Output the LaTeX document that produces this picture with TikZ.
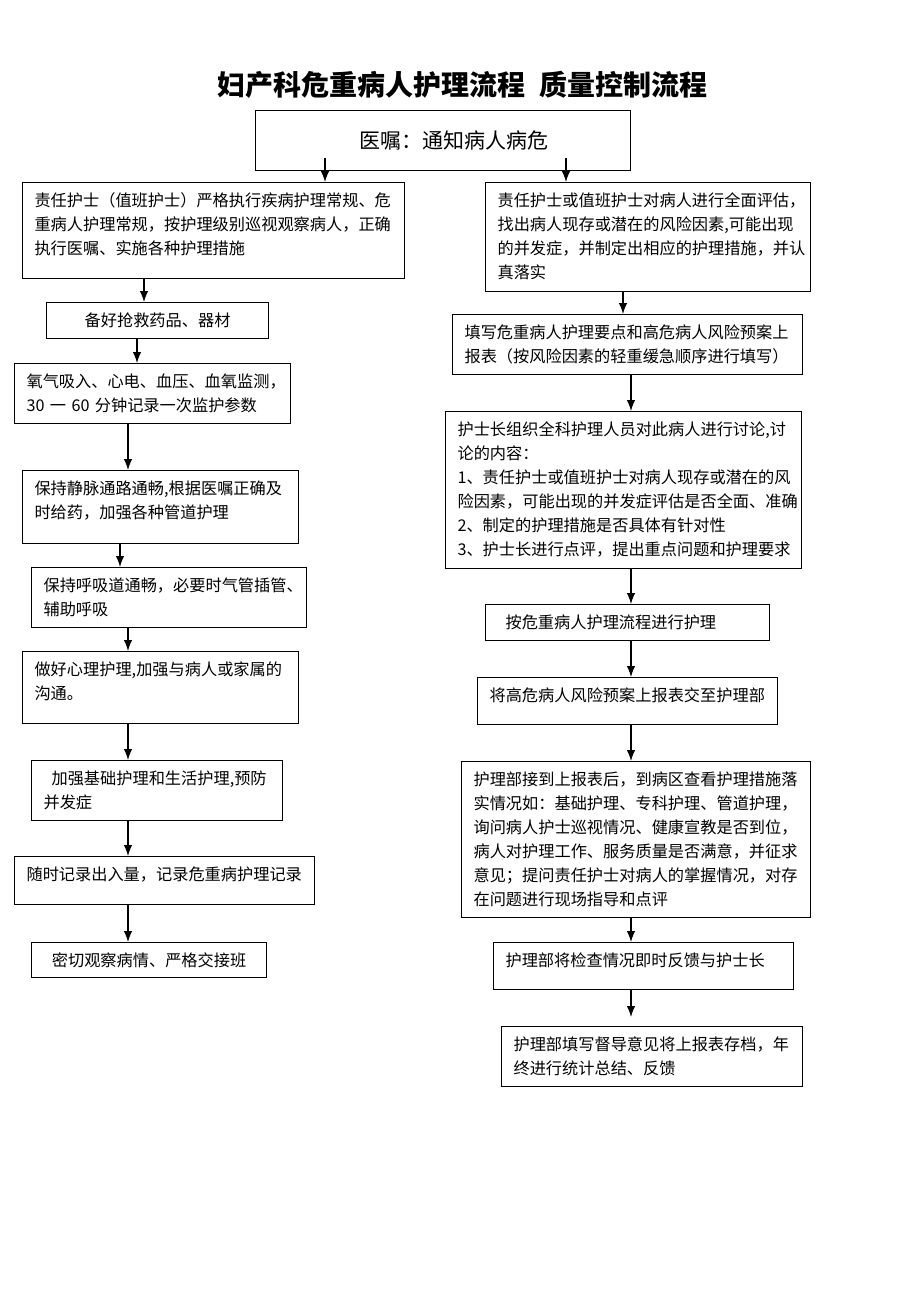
\documentclass[tikz,border=0pt]{standalone}
\usepackage{fontspec}
\setmainfont{Noto Sans CJK SC}
\usetikzlibrary{arrows.meta}
\hfuzz=20pt

\begin{document}
\begin{tikzpicture}[x=1pt,y=-1pt,>={Latex[length=11pt,width=8.5pt]},line width=1.2pt,
    every node/.style={font=\fontsize{16.2pt}{24pt}\selectfont},
    box/.style={draw,line width=1.1pt,anchor=north west,align=left,
      inner xsep=12pt,inner ysep=0pt,text height=24pt,text width=#1-24pt}]
  \useasboundingbox (0,0) rectangle (920,1302);
  \node[font=\fontsize{28pt}{28pt}\selectfont\bfseries] (title) at (462,85)
    {妇产科危重病人护理流程\hspace{0.5em}质量控制流程};
  \node[box=375pt,align=center,font=\fontsize{21pt}{24pt}\selectfont,
    text height=38pt,text depth=22pt] (top) at (255,110) {\hspace*{21pt}医嘱：通知病人病危};

  % left column
  \node[box=382pt,text depth=72pt] (l1) at (22,182)
    {责任护士（值班护士）严格执行疾病护理常规、危\\重病人护理常规，按护理级别巡视观察病人，正确\\执行医嘱、实施各种护理措施};
  \node[box=222pt,align=center,text depth=12pt] (l2) at (46,302) {备好抢救药品、器材};
  \node[box=276pt,text depth=36pt] (l3) at (14,363)
    {氧气吸入、心电、血压、血氧监测，\\30 一 60 分钟记录一次监护参数};
  \node[box=276pt,text depth=49pt] (l4) at (22,470)
    {保持静脉通路通畅,根据医嘱正确及\\时给药，加强各种管道护理};
  \node[box=275pt,text depth=36pt] (l5) at (31,567)
    {保持呼吸道通畅，必要时气管插管、\\辅助呼吸};
  \node[box=276pt,text depth=48pt] (l6) at (22,651)
    {做好心理护理,加强与病人或家属的\\沟通。};
  \node[box=251pt,text depth=36pt] (l7) at (31,760)
    {\hspace*{8pt}加强基础护理和生活护理,预防\\并发症};
  \node[box=300pt,text depth=24pt] (l8) at (14,856) {随时记录出入量，记录危重病护理记录};
  \node[box=235pt,align=center,text depth=11pt] (l9) at (31,942) {密切观察病情、严格交接班};

  % right column
  \node[box=325pt,text depth=85pt] (r1) at (485,182)
    {责任护士或值班护士对病人进行全面评估，\\找出病人现存或潜在的风险因素,可能出现\\的并发症，并制定出相应的护理措施，并认\\真落实};
  \node[box=350pt,text depth=36pt] (r2) at (452,314)
    {填写危重病人护理要点和高危病人风险预案上\\报表（按风险因素的轻重缓急顺序进行填写）};
  \node[box=356pt,text depth=133pt] (r3) at (445,411)
    {护士长组织全科护理人员对此病人进行讨论,讨\\论的内容：\\1、责任护士或值班护士对病人现存或潜在的风\\险因素，可能出现的并发症评估是否全面、准确\\2、制定的护理措施是否具体有针对性\\3、护士长进行点评，提出重点问题和护理要求};
  \node[box=284pt,text depth=12pt] (r4) at (485,604) {\hspace*{8pt}按危重病人护理流程进行护理};
  \node[box=300pt,text depth=23pt] (r5) at (477,677) {将高危病人风险预案上报表交至护理部};
  \node[box=349pt,text depth=132pt] (r6) at (461,761)
    {护理部接到上报表后，到病区查看护理措施落\\实情况如：基础护理、专科护理、管道护理，\\询问病人护士巡视情况、健康宣教是否到位，\\病人对护理工作、服务质量是否满意，并征求\\意见；提问责任护士对病人的掌握情况，对存\\在问题进行现场指导和点评};
  \node[box=300pt,text depth=23pt] (r7) at (493,942) {护理部将检查情况即时反馈与护士长};
  \node[box=301pt,text depth=36pt] (r8) at (501,1026)
    {护理部填写督导意见将上报表存档，年\\终进行统计总结、反馈};

  \draw[->,shorten <=-13pt] (top.south -| 325,0) -- (l1.north -| 325,0);
  \draw[->,shorten <=-13pt] (top.south -| 566,0) -- (r1.north -| 566,0);
  \draw[->] (l1.south -| 144,0) -- (l2.north -| 144,0);
  \draw[->] (l2.south -| 137,0) -- (l3.north -| 137,0);
  \draw[->] (l3.south -| 128,0) -- (l4.north -| 128,0);
  \draw[->] (l4.south -| 120,0) -- (l5.north -| 120,0);
  \draw[->] (l5.south -| 128,0) -- (l6.north -| 128,0);
  \draw[->] (l6.south -| 128,0) -- (l7.north -| 128,0);
  \draw[->] (l7.south -| 128,0) -- (l8.north -| 128,0);
  \draw[->] (l8.south -| 128,0) -- (l9.north -| 128,0);
  \draw[->] (r1.south -| 623,0) -- (r2.north -| 623,0);
  \draw[->] (r2.south -| 631,0) -- (r3.north -| 631,0);
  \draw[->] (r3.south -| 631,0) -- (r4.north -| 631,0);
  \draw[->] (r4.south -| 631,0) -- (r5.north -| 631,0);
  \draw[->] (r5.south -| 631,0) -- (r6.north -| 631,0);
  \draw[->] (r6.south -| 631,0) -- (r7.north -| 631,0);
  \draw[->,shorten >=9pt] (r7.south -| 631,0) -- (r8.north -| 631,0);
\end{tikzpicture}
\end{document}
